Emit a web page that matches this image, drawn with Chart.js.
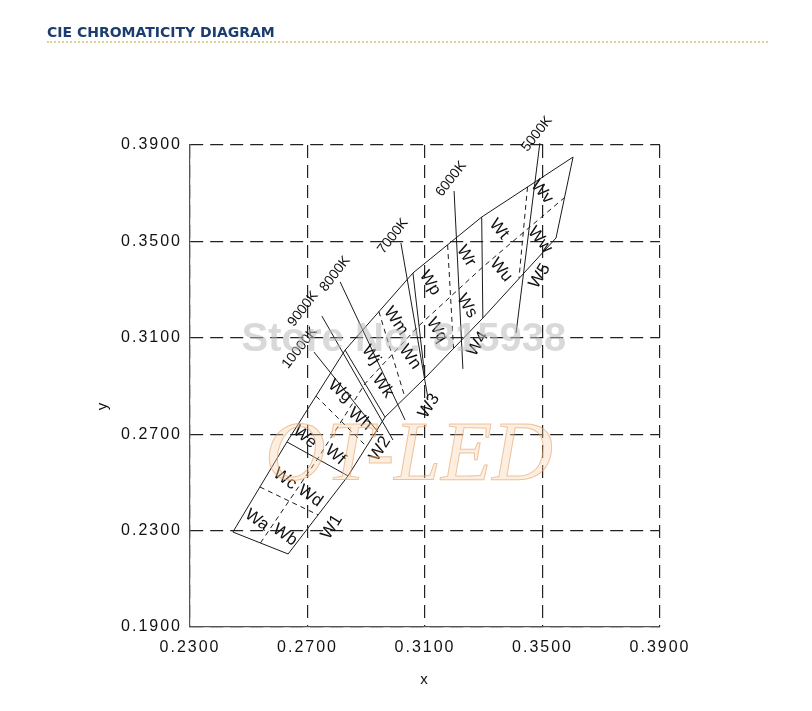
<!DOCTYPE html>
<html>
<head>
<meta charset="utf-8">
<script src="https://cdn.jsdelivr.net/npm/chart.js@4.4.1/dist/chart.umd.min.js"></script>
<style>
  html, body { margin: 0; padding: 0; background: #fff; }
  #wrap { position: relative; width: 812px; height: 711px; }
  canvas { position: absolute; left: 0; top: 0; }
  #hdr { position: absolute; left: 47px; top: 24px; font: bold 14px "DejaVu Sans", sans-serif; line-height: 16px; color: #1b3d70; }
  #rule { position: absolute; left: 47px; top: 41px; width: 721px; border-top: 2px dotted #ddd197; }
</style>
</head>
<body>
<div id="wrap">
  <canvas id="cie" width="812" height="711"></canvas>
  <div id="hdr">CIE CHROMATICITY DIAGRAM</div>
  <div id="rule"></div>
</div>
<script>
// axis ticks
const xTicks = [0.23, 0.27, 0.31, 0.35, 0.39];
const yTicks = [0.19, 0.23, 0.27, 0.31, 0.35, 0.39];

// bin band corners (CIE x, y), boundaries W1 start .. W5 end
const upperEdge = [[0.2446, 0.2294], [0.2630, 0.2668], [0.2828, 0.3049], [0.3059, 0.3369], [0.3293, 0.3601], [0.3604, 0.3850]];
const lowerEdge = [[0.2634, 0.2203], [0.2838, 0.2527], [0.2964, 0.2771], [0.3100, 0.2933], [0.3297, 0.3182], [0.3546, 0.3514]];

// dashed sub-bin lines
const centerLine = [[0.2540, 0.2249], [0.2734, 0.2597], [0.2896, 0.2910], [0.3080, 0.3151], [0.3295, 0.3392], [0.3575, 0.3682]];
const midCross = [
  [[0.2538, 0.2481], [0.2736, 0.2365]],
  [[0.2729, 0.2858], [0.2901, 0.2649]],
  [[0.2943, 0.3209], [0.3032, 0.2852]],
  [[0.3177, 0.3485], [0.3197, 0.3058]],
  [[0.3449, 0.3726], [0.3420, 0.3348]]
];

// isotherm lines
const cctNames = ['10000K', '9000K', '8000K', '7000K', '6000K', '5000K'];
const cctLines = [
  [[0.2722, 0.3041], [0.2940, 0.2709]],
  [[0.2749, 0.3190], [0.2991, 0.2676]],
  [[0.2811, 0.3332], [0.3032, 0.2759]],
  [[0.3018, 0.3493], [0.3110, 0.2850]],
  [[0.3199, 0.3709], [0.3229, 0.2971]],
  [[0.3491, 0.3908], [0.3410, 0.3120]]
];
const cctLabelAt = [[0.2674, 0.3058], [0.2685, 0.3220], [0.2794, 0.3365], [0.2991, 0.3522], [0.3189, 0.3759], [0.3481, 0.3946]];

// bin names
const binNames = ['Wa', 'Wb', 'Wc', 'Wd', 'We', 'Wf', 'Wg', 'Wh', 'Wj', 'Wk', 'Wm', 'Wn', 'Wp', 'Wq', 'Wr', 'Ws', 'Wt', 'Wu', 'Wv', 'Ww'];
const binLabelAt = [
  [0.2528, 0.2344], [0.2623, 0.2282], [0.2623, 0.2514], [0.2709, 0.2444],
  [0.2691, 0.2688], [0.2794, 0.2614], [0.2811, 0.2879], [0.2879, 0.2763],
  [0.2916, 0.3029], [0.2957, 0.2900], [0.3001, 0.3170], [0.3049, 0.3020],
  [0.3117, 0.3327], [0.3141, 0.3132], [0.3240, 0.3439], [0.3243, 0.3232],
  [0.3352, 0.3551], [0.3359, 0.3381], [0.3498, 0.3705], [0.3491, 0.3506]
];
const groupNames = ['W1', 'W2', 'W3', 'W4', 'W5'];
const groupLabelAt = [[0.2783, 0.2315], [0.2947, 0.2639], [0.3114, 0.2817], [0.3280, 0.3074], [0.3491, 0.3356]];

// label angles (degrees) per group
const binAngle = [35, 40, 55, 58, 50];

function lineSet(points, dash) {
  return {
    data: points.map(p => ({ x: p[0], y: p[1] })),
    showLine: true,
    borderColor: '#1a1a1a',
    borderWidth: 1,
    borderDash: dash || [],
    pointRadius: 0,
    pointHoverRadius: 0,
    tension: 0,
    clip: false
  };
}

const datasets = [];
datasets.push(lineSet(upperEdge.concat(lowerEdge.slice().reverse(), [upperEdge[0]])));
for (let k = 1; k < upperEdge.length - 1; k++) datasets.push(lineSet([upperEdge[k], lowerEdge[k]]));
datasets.push(lineSet(centerLine, [5, 4]));
midCross.forEach(seg => datasets.push(lineSet(seg, [5, 4])));
cctLines.forEach(seg => datasets.push(lineSet(seg)));

const spacing = {
  id: 'spacing',
  beforeDraw(c) { c.ctx.letterSpacing = '2px'; },
  beforeDatasetsDraw(c) { c.ctx.letterSpacing = '0px'; }
};

const labels = {
  id: 'labels',
  afterDatasetsDraw(chart) {
    const { ctx, scales: { x, y } } = chart;
    const put = (text, p, deg, size) => {
      ctx.save();
      ctx.translate(x.getPixelForValue(p[0]), y.getPixelForValue(p[1]));
      ctx.rotate(deg * Math.PI / 180);
      ctx.font = size + 'px "Liberation Sans", Arial, sans-serif';
      ctx.fillStyle = '#111';
      ctx.textAlign = 'center';
      ctx.textBaseline = 'middle';
      ctx.fillText(text, 0, 0);
      ctx.restore();
    };
    binNames.forEach((n, i) => put(n, binLabelAt[i], binAngle[Math.floor(i / 4)], 17));
    groupNames.forEach((n, i) => put(n, groupLabelAt[i], -58, 17));
    cctNames.forEach((n, i) => put(n, cctLabelAt[i], -52, 14));
  },
  afterDraw(chart) {
    const { ctx, chartArea: a, scales: { y } } = chart;
    // y axis title
    ctx.save();
    ctx.translate(103, y.getPixelForValue(0.2815));
    ctx.rotate(-Math.PI / 2);
    ctx.font = '15px "Liberation Sans", Arial, sans-serif';
    ctx.fillStyle = '#111';
    ctx.textAlign = 'center';
    ctx.textBaseline = 'middle';
    ctx.fillText('y', 0, 0);
    ctx.restore();

    // watermarks
    const w = a.right - a.left, h = a.bottom - a.top;
    ctx.save();
    ctx.textAlign = 'center';
    ctx.textBaseline = 'middle';
    ctx.font = 'bold 40px "Liberation Sans", Arial, sans-serif';
    ctx.fillStyle = 'rgba(185,185,185,0.55)';
    ctx.fillText('Store No: 815938', a.left + w * 0.455, a.top + h * 0.405);
    ctx.font = 'italic 84px "Liberation Serif", "Times New Roman", serif';
    ctx.fillStyle = 'rgba(246,206,166,0.35)';
    ctx.strokeStyle = 'rgba(232,160,100,0.6)';
    ctx.lineWidth = 1;
    ctx.fillText('OT-LED', a.left + w * 0.466, a.top + h * 0.65);
    ctx.strokeText('OT-LED', a.left + w * 0.466, a.top + h * 0.65);
    ctx.restore();
  }
};

const tickFont = { family: '"Liberation Sans", Arial, sans-serif', size: 16 };

new Chart(document.getElementById('cie'), {
  type: 'scatter',
  data: { datasets },
  options: {
    responsive: false,
    animation: false,
    events: [],
    layout: { padding: { left: 0, right: 152, top: 145, bottom: 18 } },
    plugins: { legend: { display: false }, tooltip: { enabled: false } },
    scales: {
      x: {
        type: 'linear', min: 0.23, max: 0.39,
        afterBuildTicks: s => { s.ticks = xTicks.map(v => ({ value: v })); },
        afterFit: s => { s.height = 66; },
        ticks: { font: tickFont, color: '#111', padding: 11, maxRotation: 0, autoSkip: false, callback: v => v.toFixed(4) },
        grid: { color: '#222', lineWidth: 1.2, drawTicks: false },
        border: { display: true, color: '#555', width: 1.2, dash: [13, 7] },
        title: { display: true, text: 'x', color: '#111', font: { family: '"Liberation Sans", Arial, sans-serif', size: 15 }, padding: { top: 4, bottom: 4 } }
      },
      y: {
        type: 'linear', min: 0.19, max: 0.39,
        afterBuildTicks: s => { s.ticks = yTicks.map(v => ({ value: v })); },
        afterFit: s => { s.width = 190; },
        ticks: { font: tickFont, color: '#111', padding: 8, autoSkip: false, callback: v => v.toFixed(4) },
        grid: { color: '#222', lineWidth: 1.2, drawTicks: false },
        border: { display: true, color: '#555', width: 1.2, dash: [13, 7] }
      }
    }
  },
  plugins: [spacing, labels]
});
</script>
</body>
</html>
